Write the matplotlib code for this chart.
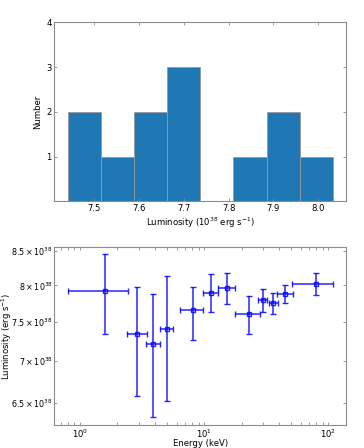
import numpy as np
import matplotlib
matplotlib.use("Agg")
import matplotlib.pyplot as plt
from matplotlib.ticker import FixedLocator, FuncFormatter

# ---- Histogram data ----
bin_edges = [7.440, 7.514, 7.588, 7.662, 7.736, 7.810, 7.885, 7.959, 8.033]
counts = [2, 1, 2, 3, 0, 1, 2, 1]
hist_xticks = [7.5, 7.6, 7.7, 7.8, 7.9, 8.0]
hist_yticks = [1, 2, 3, 4]

# ---- Luminosity vs energy ----
energy = [1.59, 2.86, 3.87, 4.99, 8.08, 11.3, 15.2, 22.8, 29.9, 35.6, 45.0, 79.5]
energy_lo = [0.80, 2.39, 3.38, 4.43, 6.42, 9.78, 12.8, 17.7, 27.3, 33.1, 38.8, 51.2]
energy_hi = [2.42, 3.44, 4.43, 5.64, 9.83, 12.8, 17.8, 28.3, 32.2, 39.3, 52.2, 108.3]
lum = [7.925, 7.347, 7.21, 7.41, 7.66, 7.90, 7.96, 7.61, 7.80, 7.76, 7.88, 8.02]  # 1e38
lum_lo = [7.347, 6.58, 6.34, 6.53, 7.27, 7.64, 7.74, 7.35, 7.64, 7.61, 7.75, 7.87]
lum_hi = [8.45, 7.98, 7.88, 8.13, 7.98, 8.16, 8.18, 7.85, 7.95, 7.90, 8.01, 8.18]
lum_yticks = [6.5, 7.0, 7.5, 8.0, 8.5]  # 1e38

plt.rcParams['font.family'] = ['DejaVu Sans']
fs = 6.1
spine_c = '0.55'

fig = plt.figure(figsize=(3.64, 4.48), dpi=100)
ax1 = fig.add_axes([0.149, 0.5507, 0.802, 0.3996])
ax2 = fig.add_axes([0.149, 0.0507, 0.802, 0.3986])

def style(ax):
    for s in ax.spines.values():
        s.set_color(spine_c)
        s.set_linewidth(0.8)
    ax.tick_params(which='both', direction='in', top=True, right=True,
                   color=spine_c, labelsize=fs, pad=2, width=0.6)
    ax.tick_params(which='major', length=2.5)
    ax.tick_params(which='minor', length=2.5)

# histogram
centers = [(a + b) / 2 for a, b in zip(bin_edges[:-1], bin_edges[1:])]
ax1.hist(centers, bins=bin_edges, weights=counts, color='#1f77b4',
         edgecolor='0.6', linewidth=0.6)
ax1.set_ylim(0, 4)
ax1.set_yticks(hist_yticks)
ax1.set_xticks(hist_xticks)
ax1.set_xticklabels(['%.1f' % v for v in hist_xticks])
ax1.set_ylabel('Number', fontsize=fs, labelpad=3)
ax1.set_xlabel(r'Luminosity ($10^{38}$ erg s$^{-1}$)', fontsize=fs, labelpad=1.5)
style(ax1)

# luminosity vs energy
E = np.array(energy)
L = np.array(lum) * 1e38
xerr = [E - np.array(energy_lo), np.array(energy_hi) - E]
yerr = [L - np.array(lum_lo) * 1e38, np.array(lum_hi) * 1e38 - L]
ax2.errorbar(E, L, xerr=xerr, yerr=yerr, fmt='s', color='#0000ff',
             mfc='none', mec='#0000ff', ms=3.4, mew=1.0, elinewidth=1.1,
             capsize=2.0, capthick=1.0, alpha=0.85)
ax2.set_xscale('log')
ax2.set_yscale('log')
ax2.set_xlim(0.621, 138.8)
ax2.set_ylim(6.253e38, 8.564e38)
ax2.yaxis.set_major_locator(FixedLocator([v * 1e38 for v in lum_yticks]))
ax2.yaxis.set_minor_locator(FixedLocator([]))
def yfmt(v, pos):
    m = v / 1e38
    s = ('%g' % round(m, 2))
    return r'$%s\times10^{38}$' % s
ax2.yaxis.set_major_formatter(FuncFormatter(yfmt))
ax2.set_xlabel('Energy (keV)', fontsize=fs)
ax2.set_ylabel(r'Luminosity (erg s$^{-1}$)', fontsize=fs)
style(ax2)
ax2.tick_params(axis='y', which='both', pad=1, labelsize=5.8)
ax2.yaxis.set_label_coords(-0.139, 0.5)
ax2.xaxis.set_label_coords(0.5, -0.077)

fig.savefig('out.png', dpi=100)
